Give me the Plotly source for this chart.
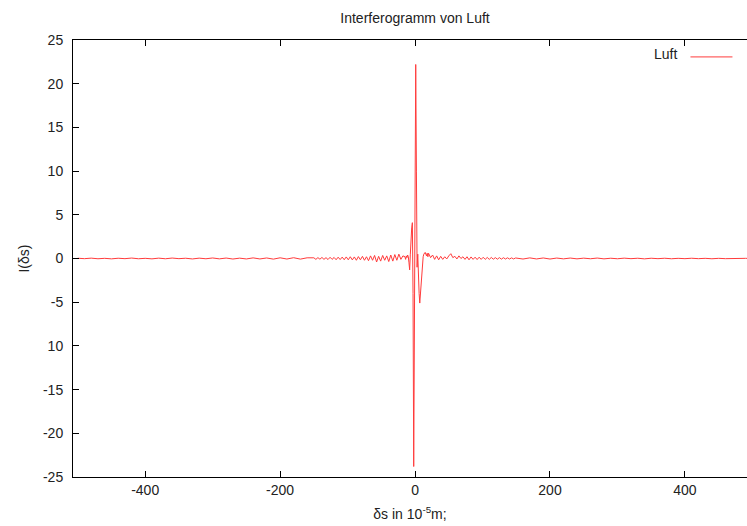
import plotly.graph_objects as go

# --- measured interferogram of air (path difference in 1e-5 m, intensity) ---
x_outer_left = list(range(-500, -159, 10))
y_outer_left = [0.03, -0.02, 0.04, -0.03, 0.02, -0.04, 0.03, -0.02, 0.05, -0.03,
                0.02, -0.04, 0.04, -0.03, 0.05, -0.02, 0.03, -0.05, 0.04, -0.03,
                0.06, -0.04, 0.05, -0.06, 0.04, -0.05, 0.07, -0.05, 0.06, -0.07,
                0.08, -0.06, 0.09, -0.07, 0.08]

x_mid_left = list(range(-150, -17, 3))
y_mid_left = [0.08, -0.10, 0.10, -0.08, 0.12, -0.10, 0.10, -0.12, 0.14, -0.10,
              0.12, -0.14, 0.15, -0.12, 0.16, -0.14, 0.18, -0.15, 0.20, -0.16,
              0.18, -0.20, 0.22, -0.15, 0.25, -0.20, 0.20, -0.25, 0.30, -0.20,
              0.35, -0.40, 0.25, -0.30, 0.35, -0.20, 0.30, -0.35, 0.40, -0.30,
              0.45, -0.20, 0.50, -0.10, 0.30]

x_center = list(range(-15, 20))
y_center = [0.2, -0.1, 0.3, 0.1, 0.4, 0.2, -0.5, -1.3, 0.5, 2.5,
            3.5, 4.1, -4.0, -23.8, 0.0, 12.0, 22.2, 10.0, -1.0, 0.5,
            -2.5, -4.0, -5.1, -4.0, -2.0, -0.8, -0.2, 0.2, 0.5, 0.6,
            0.7, 0.5, 0.3, 0.6, 0.2]

x_mid_right = list(range(20, 150, 3))
y_mid_right = [0.60, 0.10, 0.40, -0.10, 0.30, -0.15, 0.25, -0.10, 0.20, -0.05,
               0.30, 0.55, 0.10, 0.25, -0.05, 0.30, 0.00, 0.20, -0.10, 0.20,
               -0.15, 0.18, -0.10, 0.15, -0.12, 0.15, -0.10, 0.14, -0.10, 0.12,
               -0.10, 0.12, -0.08, 0.10, -0.08, 0.10, -0.07, 0.09, -0.06, 0.08,
               -0.06, 0.07, -0.05, 0.06]

x_outer_right = list(range(160, 501, 10))
y_outer_right = [-0.06, 0.07, -0.05, 0.06, -0.06, 0.05, -0.04, 0.05, -0.04, 0.04,
                 -0.03, 0.05, -0.04, 0.03, -0.03, 0.04, -0.02, 0.03, -0.04, 0.03,
                 -0.02, 0.03, -0.03, 0.02, -0.02, 0.03, -0.02, 0.02, -0.03, 0.02,
                 -0.02, 0.02, -0.01, 0.02, -0.01]

delta_s = x_outer_left + x_mid_left + x_center + x_mid_right + x_outer_right
intensity = y_outer_left + y_mid_left + y_center + y_mid_right + y_outer_right

y_tickvals = [25, 20, 15, 10, 5, 0, -5, -10, -15, -20, -25]
y_ticktext = ["25", "20", "15", "10", "5", "0", "-5", "10", "-15", "-20", "-25"]
x_tickvals = [-400, -200, 0, 200, 400]
x_ticktext = ["-400", "-200", "0", "200", "400"]

FONT = "Liberation Sans, Arial, sans-serif"
TXT = "#222222"

fig = go.Figure()
fig.add_trace(go.Scatter(
    x=delta_s, y=intensity, mode="lines", name=" ",
    line=dict(color="#ff3b3b", width=1),
))

fig.update_layout(
    width=747, height=526,
    margin=dict(l=73, r=0, t=40, b=49),
    paper_bgcolor="white", plot_bgcolor="white",
    font=dict(family=FONT, size=14, color=TXT),
    title=dict(text="Interferogramm von Luft", x=415 / 747, xanchor="center",
               y=1 - 18 / 526, yanchor="middle",
               font=dict(family=FONT, size=14, color=TXT)),
    showlegend=True,
    legend=dict(
        title=dict(text="Luft", side="left", font=dict(family=FONT, size=14, color=TXT)),
        x=1.0, xanchor="right", y=0.997, yanchor="top",
        itemwidth=42,
        bgcolor="rgba(0,0,0,0)", borderwidth=0,
        font=dict(family=FONT, size=14, color=TXT),
    ),
    xaxis=dict(
        range=[-507, 492], tickvals=x_tickvals, ticktext=x_ticktext,
        ticks="inside", ticklen=6, tickcolor="black",
        showline=True, linecolor="black", linewidth=1, mirror="ticks",
        showgrid=False, zeroline=False,
        title=dict(text="δs in 10<sup>-5</sup>m;", standoff=12,
                   font=dict(family=FONT, size=14, color=TXT)),
    ),
    yaxis=dict(
        range=[-25, 25], tickvals=y_tickvals, ticktext=y_ticktext,
        ticks="inside", ticklen=6, tickcolor="black",
        showline=True, linecolor="black", linewidth=1,
        showgrid=False, zeroline=False, ticklabelstandoff=6,
        title=dict(text="I(δs)", standoff=10,
                   font=dict(family=FONT, size=14, color=TXT)),
    ),
)

fig.write_html("out.html")
